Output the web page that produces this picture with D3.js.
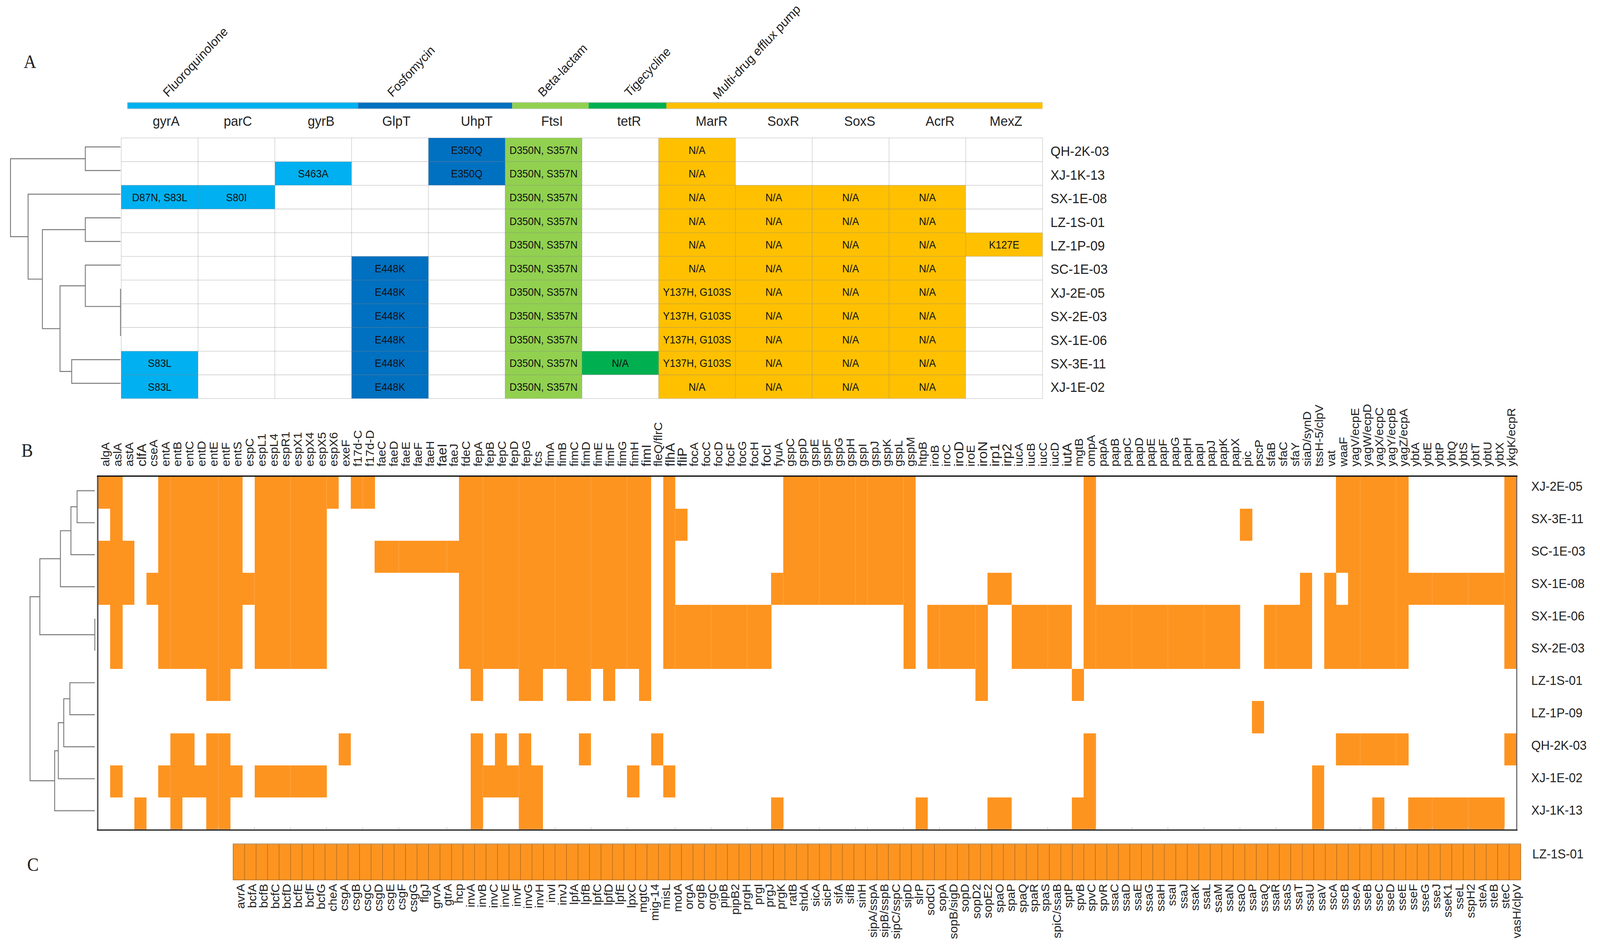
<!DOCTYPE html>
<html><head><meta charset="utf-8">
<style>html,body{margin:0;padding:0;background:#fff;overflow:hidden;width:100%;height:100%}svg{display:block;width:100vw;height:100vh}text{font-family:"Liberation Sans",Arial,sans-serif;fill:#222}</style>
<script src="https://cdnjs.cloudflare.com/ajax/libs/d3/7.8.5/d3.min.js"></script>
</head><body><svg id="c" viewBox="0 0 4420 2434" preserveAspectRatio="none" xmlns="http://www.w3.org/2000/svg"></svg>
<script>
// ---------- Panel A data ----------
const mutGenes = ["gyrA","parC","gyrB","GlpT","UhpT","FtsI","tetR","MarR","SoxR","SoxS","AcrR","MexZ"];
const mutGeneClass = [0,0,0,1,1,2,3,4,4,4,4,4];
const classNames = ["Fluoroquinolone","Fosfomycin","Beta-lactam","Tigecycline","Multi-drug efflux pump"];
const classColors = ["#00B0F0","#0070C0","#92D050","#00B050","#FFC000"];
const strainsA = ["QH-2K-03","XJ-1K-13","SX-1E-08","LZ-1S-01","LZ-1P-09","SC-1E-03","XJ-2E-05","SX-2E-03","SX-1E-06","SX-3E-11","XJ-1E-02"];
const FTS = "D350N, S357N", NA = "N/A", E4 = "E448K", E3 = "E350Q", YG = "Y137H, G103S";
const mutQH2K03 = ["","","","",E3,FTS,"",NA,"","","",""];
const mutXJ1K13 = ["","","S463A","",E3,FTS,"",NA,"","","",""];
const mutSX1E08 = ["D87N, S83L","S80I","","","",FTS,"",NA,NA,NA,NA,""];
const mutLZ1S01 = ["","","","","",FTS,"",NA,NA,NA,NA,""];
const mutLZ1P09 = ["","","","","",FTS,"",NA,NA,NA,NA,"K127E"];
const mutSC1E03 = ["","","",E4,"",FTS,"",NA,NA,NA,NA,""];
const mutXJ2E05 = ["","","",E4,"",FTS,"",YG,NA,NA,NA,""];
const mutSX2E03 = ["","","",E4,"",FTS,"",YG,NA,NA,NA,""];
const mutSX1E06 = ["","","",E4,"",FTS,"",YG,NA,NA,NA,""];
const mutSX3E11 = ["S83L","","",E4,"",FTS,NA,YG,NA,NA,NA,""];
const mutXJ1E02 = ["S83L","","",E4,"",FTS,"",NA,NA,NA,NA,""];
const mutRows = [mutQH2K03,mutXJ1K13,mutSX1E08,mutLZ1S01,mutLZ1P09,mutSC1E03,mutXJ2E05,mutSX2E03,mutSX1E06,mutSX3E11,mutXJ1E02];
// tree: [merge height, child, child]
const treeA = [1,[.32,"QH-2K-03","XJ-1K-13"],[.84,"SX-1E-08",[.71,[.32,"LZ-1S-01","LZ-1P-09"],[.55,[.32,"SC-1E-03",[0,"XJ-2E-05",[0,"SX-2E-03","SX-1E-06"]]],[.444,"SX-3E-11","XJ-1E-02"]]]]];

// ---------- Panel B data ----------
const virGenes = ["algA","aslA","astA","clfA","cseA","entA","entB","entC","entD","entE","entF","entS","espC","espL1","espL4","espR1","espX1","espX4","espX5","espX6","exeF","f17d-C","f17d-D","faeC","faeD","faeE","faeF","faeH","faeI","faeJ","fdeC","fepA","fepB","fepC","fepD","fepG","fcs","fimA","fimB","fimC","fimD","fimE","fimF","fimG","fimH","fimI","fleQ/flrC","flhA","fliP","focA","focC","focD","focF","focG","focH","focI","fyuA","gspC","gspD","gspE","gspF","gspG","gspH","gspI","gspJ","gspK","gspL","gspM","htpB","iroB","iroC","iroD","iroE","iroN","irp1","irp2","iucA","iucB","iucC","iucD","iutA","mgtB","ompA","papA","papB","papC","papD","papE","papF","papG","papH","papI","papJ","papK","papX","pic","pscP","sfaB","sfaC","sfaY","siaD/synD","tssH-5/clpV","vat","waaF","yagV/ecpE","yagW/ecpD","yagX/ecpC","yagY/ecpB","yagZ/ecpA","ybtA","ybtE","ybtP","ybtQ","ybtS","ybtT","ybtU","ybtX","ykgK/ecpR"];
const virLargeLabels = ["clfA","faeI","fimI","flhA","fliP","focI","iroD","iroN","irp1","irp2","iutA"];
const strainsB = ["XJ-2E-05","SX-3E-11","SC-1E-03","SX-1E-08","SX-1E-06","SX-2E-03","LZ-1S-01","LZ-1P-09","QH-2K-03","XJ-1E-02","XJ-1K-13"];
// present genes as [first,last] index runs into virGenes
const virXJ2E05 = [[0,1],[5,11],[13,19],[21,22],[30,45],[47,47],[57,67],[82,82],[103,108],[117,117]];
const virSX3E11 = [[1,1],[5,11],[13,18],[30,45],[47,48],[57,67],[82,82],[95,95],[103,108],[117,117]];
const virSC1E03 = [[0,2],[5,11],[13,18],[23,45],[47,47],[57,67],[82,82],[103,108],[117,117]];
const virSX1E08 = [[0,2],[4,18],[30,45],[47,47],[56,67],[74,75],[82,82],[100,100],[102,102],[104,117]];
const virSX1E06 = [[1,1],[5,11],[13,18],[30,45],[47,55],[67,67],[69,73],[76,80],[82,94],[97,100],[102,108],[117,117]];
const virSX2E03 = [[1,1],[5,11],[13,18],[30,45],[47,55],[67,67],[69,73],[76,80],[82,94],[97,100],[102,108],[117,117]];
const virLZ1S01 = [[9,10],[31,31],[35,36],[39,40],[42,42],[45,45],[73,73],[81,81]];
const virLZ1P09 = [[96,96]];
const virQH2K03 = [[6,7],[9,10],[20,20],[31,31],[33,33],[35,35],[40,40],[46,46],[82,82],[103,108],[117,117]];
const virXJ1E02 = [[1,1],[5,11],[13,18],[31,36],[44,44],[47,47],[82,82],[101,101]];
const virXJ1K13 = [[3,3],[6,6],[9,10],[31,31],[35,36],[56,56],[68,68],[74,75],[81,82],[101,101],[106,106],[109,116]];
const virRows = [virXJ2E05,virSX3E11,virSC1E03,virSX1E08,virSX1E06,virSX2E03,virLZ1S01,virLZ1P09,virQH2K03,virXJ1E02,virXJ1K13];
const virSeparators = [6,10,13,16,19,22,25,29,32,35,38,41,44,48,51,54,57,60,63,64,67,70,73,76,79,83,86,89,92,95,98,102,105,108,111,114,117];
const treeB = [1,[.849,[.531,[.369,[.274,"XJ-2E-05","SX-3E-11"],"SC-1E-03"],"SX-1E-08"],[0,"SX-1E-06","SX-2E-03"]],[.62,[.564,[.48,[.385,"LZ-1S-01","LZ-1P-09"],"QH-2K-03"],"XJ-1E-02"],"XJ-1K-13"]];

// ---------- Panel C data ----------
const sharedGenes = ["avrA","bcfA","bcfB","bcfC","bcfD","bcfE","bcfF","bcfG","cheA","csgA","csgB","csgC","csgD","csgE","csgF","csgG","flgJ","grvA","gtrA","hcp","invA","invB","invC","invE","invF","invG","invH","invI","invJ","lpfA","lpfB","lpfC","lpfD","lpfE","lpxC","mgtC","mig-14","misL","motA","orgA","orgB","orgC","pipB","pipB2","prgH","prgI","prgJ","prgK","ratB","shdA","sicA","sicP","sifA","sifB","sinH","sipA/sspA","sipB/sspB","sipC/sspC","sipD","slrP","sodCI","sopA","sopB/sigD","sopD","sopD2","sopE2","spaO","spaP","spaQ","spaR","spaS","spiC/ssaB","sptP","spvB","spvC","spvR","ssaC","ssaD","ssaE","ssaG","ssaH","ssaI","ssaJ","ssaK","ssaL","ssaM","ssaN","ssaO","ssaP","ssaQ","ssaR","ssaS","ssaT","ssaU","ssaV","sscA","sscB","sseA","sseB","sseC","sseD","sseE","sseF","sseG","sseJ","sseK1","sseL","sspH2","steA","steB","steC","vasH/clpV"];
const sharedStrain = ["LZ-1S-01"];

// ---------- Drawing ----------
const ORANGE = "#FE9420";
const svg = d3.select("#c");
const SERIF = '"Liberation Serif","Times New Roman",serif';

function panelLetter(t,x,y){
  svg.append("text").attr("x",x).attr("y",y).attr("text-anchor","middle").attr("dominant-baseline","central")
    .style("font-family",SERIF).style("font-size","48px").attr("fill","#111").text(t);
}
panelLetter("A",83,158); panelLetter("B",75,1153); panelLetter("C",91,2213);

function drawTree(tree, leafY, xs, stroke){
  const p = d3.path();
  (function walk(n){
    if(typeof n === "string") return {x:xs(0), y:leafY(n)};
    const a = walk(n[1]), b = walk(n[2]), x = xs(n[0]);
    p.moveTo(a.x,a.y); p.lineTo(x,a.y); p.lineTo(x,b.y); p.lineTo(b.x,b.y);
    return {x, y:(a.y+b.y)/2};
  })(tree);
  svg.append("path").attr("d",p.toString()).attr("fill","none").attr("stroke",stroke).attr("stroke-width",2.4);
}

// --- Panel A ---
const ax = d3.scaleBand().domain(mutGenes).range([335,2880]);
const ay = d3.scaleBand().domain(strainsA).range([353,1020]);
const barX = d3.scaleLinear().domain([0,3,5,6,7,12]).range([352,989,1415,1626,1841,2880]);
const headX = d3.scaleOrdinal().domain(mutGenes).range([459,657,887,1095,1317,1525,1738,1966,2164,2375,2597,2779]);
const groupLabelShift = [112,95,85,113,142];
const groupStarts = [0,3,5,6,7], groupEnds = [3,5,6,7,12];

svg.append("g").selectAll("rect").data(classNames).join("rect")
  .attr("x",(d,i)=>barX(groupStarts[i])).attr("width",(d,i)=>barX(groupEnds[i])-barX(groupStarts[i]))
  .attr("y",263).attr("height",15).attr("fill",(d,i)=>classColors[i]);
svg.append("line").attr("x1",barX(0)).attr("x2",barX(12)).attr("y1",262).attr("y2",262).attr("stroke","#bbb").attr("stroke-width",1.5);
svg.append("line").attr("x1",barX(0)).attr("x2",barX(12)).attr("y1",278.5).attr("y2",278.5).attr("stroke","#ccc").attr("stroke-width",1.5);

svg.append("g").selectAll("text").data(classNames).join("text")
  .attr("transform",(d,i)=>`translate(${barX(groupStarts[i])+groupLabelShift[i]},${i===4?256:250}) rotate(-45)`)
  .style("font-size","33px").text(d=>d);

svg.append("g").selectAll("text").data(mutGenes).join("text")
  .attr("x",d=>headX(d)).attr("y",310).attr("text-anchor","middle").attr("dominant-baseline","central")
  .style("font-size","36px").text(d=>d);

const aCells = [];
mutRows.forEach((r,i)=>r.forEach((v,j)=>{ if(v) aCells.push({s:strainsA[i],g:mutGenes[j],v,c:mutGeneClass[j]}); }));
svg.append("g").selectAll("rect").data(aCells).join("rect")
  .attr("x",d=>ax(d.g)).attr("y",d=>ay(d.s)).attr("width",ax.bandwidth()).attr("height",ay.bandwidth())
  .attr("fill",d=>classColors[d.c]).attr("shape-rendering","crispEdges");

const gridA = svg.append("g").attr("stroke","#888").attr("stroke-opacity",.4).attr("stroke-width",1.6);
gridA.selectAll(".v").data(mutGenes.concat(["_end"])).join("line").attr("class","v")
  .attr("x1",d=>d==="_end"?ax.range()[1]:ax(d)).attr("x2",d=>d==="_end"?ax.range()[1]:ax(d))
  .attr("y1",ay.range()[0]).attr("y2",ay.range()[1]);
gridA.selectAll(".h").data(strainsA.concat(["_end"])).join("line").attr("class","h")
  .attr("y1",d=>d==="_end"?ay.range()[1]:ay(d)).attr("y2",d=>d==="_end"?ay.range()[1]:ay(d))
  .attr("x1",ax.range()[0]).attr("x2",ax.range()[1]);

svg.append("g").selectAll("text").data(aCells).join("text")
  .attr("x",d=>ax(d.g)+ax.bandwidth()/2).attr("y",d=>ay(d.s)+ay.bandwidth()/2+1)
  .attr("text-anchor","middle").attr("dominant-baseline","central").style("font-size","28px").style("fill","#111").text(d=>d.v);

const aLabelY = d3.scalePoint().domain(strainsA).range([387,991]);
svg.append("g").selectAll("text").data(strainsA).join("text")
  .attr("x",2902).attr("y",d=>aLabelY(d)).attr("dominant-baseline","central").style("font-size","36px").text(d=>d);

const aTreeY = d3.scalePoint().domain(strainsA).range([376,981]);
drawTree(treeA, aTreeY, d3.scaleLinear().domain([0,1]).range([333,29]), "#777");

// --- Panel B ---
const bx = d3.scaleBand().domain(virGenes).range([271.5,4189]);
const by = d3.scaleBand().domain(strainsB).range([1219.5,2123]);
const bCells = [];
virRows.forEach((runs,i)=>runs.forEach(([a,b])=>d3.range(a,b+1).forEach(j=>bCells.push({s:strainsB[i],g:virGenes[j]}))));
svg.append("g").selectAll("rect").data(bCells).join("rect")
  .attr("x",d=>bx(d.g)).attr("y",d=>by(d.s)).attr("width",bx.bandwidth()+.5).attr("height",by.bandwidth())
  .attr("fill",ORANGE).attr("shape-rendering","crispEdges");

// faint column separators and small edge ticks
svg.append("g").selectAll("line").data(virSeparators).join("line")
  .attr("x1",d=>bx(virGenes[d])).attr("x2",d=>bx(virGenes[d])).attr("y1",1219.5).attr("y2",2123)
  .attr("stroke","#fff").attr("stroke-opacity",.16).attr("stroke-width",1.6);
svg.append("g").selectAll("line").data(virSeparators).join("line")
  .attr("x1",d=>bx(virGenes[d])).attr("x2",d=>bx(virGenes[d])).attr("y1",2117).attr("y2",2123)
  .attr("stroke","#ccc").attr("stroke-width",1.5);
svg.append("line").attr("x1",272).attr("x2",4190).attr("y1",2121.5).attr("y2",2121.5).attr("stroke","#999").attr("stroke-opacity",.35).attr("stroke-width",2);

svg.append("line").attr("x1",270).attr("x2",270).attr("y1",1218).attr("y2",2126).attr("stroke","#555").attr("stroke-width",4);
svg.append("line").attr("x1",4190).attr("x2",4190).attr("y1",1218).attr("y2",2126).attr("stroke","#666").attr("stroke-width",3);
svg.append("line").attr("x1",268).attr("x2",4192).attr("y1",1218.5).attr("y2",1218.5).attr("stroke","#000").attr("stroke-width",3);
svg.append("line").attr("x1",268).attr("x2",4192).attr("y1",2124.5).attr("y2",2124.5).attr("stroke","#222").attr("stroke-width",3);

svg.append("g").selectAll("text").data(virGenes).join("text")
  .attr("transform",d=>`translate(${bx(d)+bx.bandwidth()/2+3},1194) rotate(-90)`)
  .attr("dominant-baseline","central")
  .style("font-size",d=>virLargeLabels.includes(d)?"35px":"31px").text(d=>d);

const bLabelY = d3.scalePoint().domain(strainsB).range([1244,2073]);
svg.append("g").selectAll("text").data(strainsB).join("text")
  .attr("x",4230).attr("y",d=>bLabelY(d)).attr("dominant-baseline","central").style("font-size","34px").text(d=>d);

const bTreeY = d3.scalePoint().domain(strainsB).range([1256,2075]);
drawTree(treeB, bTreeY, d3.scaleLinear().domain([0,1]).range([262,83]), "#777");

// --- Panel C ---
const cx = d3.scaleBand().domain(sharedGenes).range([644,4201]);
svg.append("g").selectAll("rect").data(sharedGenes).join("rect")
  .attr("x",d=>cx(d)).attr("y",2160).attr("width",cx.bandwidth()).attr("height",92)
  .attr("fill",ORANGE).attr("stroke","#bd7420").attr("stroke-width",1.8);
svg.append("line").attr("x1",644).attr("x2",4201).attr("y1",2160).attr("y2",2160).attr("stroke","#b89a70").attr("stroke-width",2.5);

svg.append("g").selectAll("text").data(sharedGenes).join("text")
  .attr("transform",d=>`translate(${cx(d)+cx.bandwidth()/2+5},2262) rotate(-90)`)
  .attr("text-anchor","end").attr("dominant-baseline","central").style("font-size","31px").text(d=>d);

svg.append("text").attr("x",4233).attr("y",2185).attr("dominant-baseline","central").style("font-size","34px").text(sharedStrain[0]);
</script></body></html>
